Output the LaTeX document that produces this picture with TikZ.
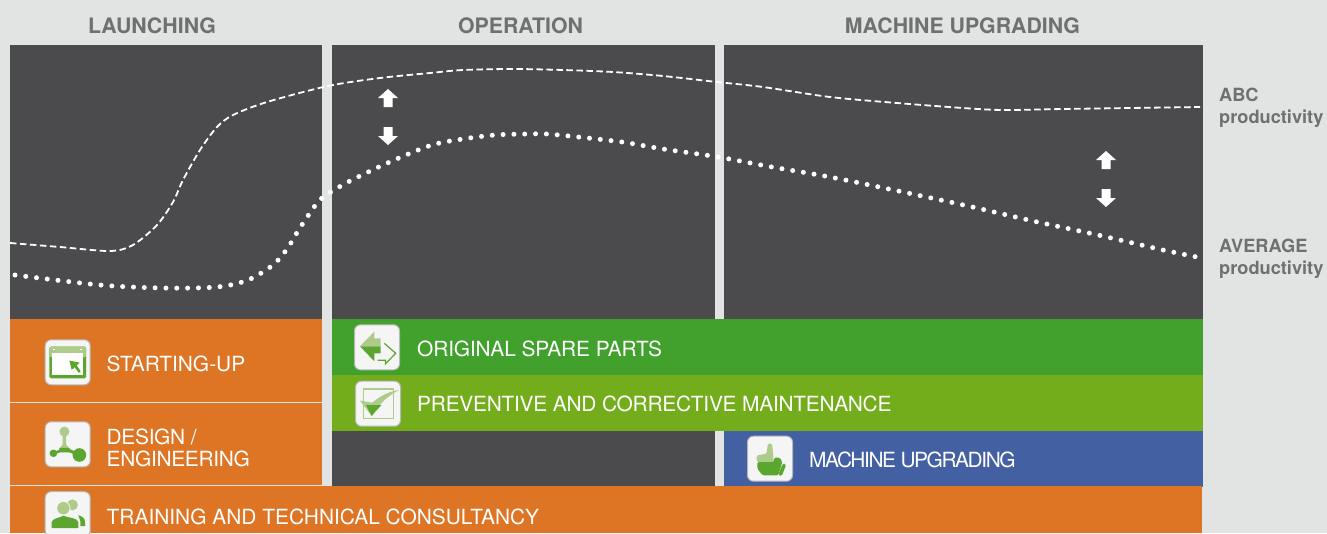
\documentclass[tikz,border=0pt]{standalone}
\usepackage{fontspec}
\setmainfont{TeX Gyre Heros}
\definecolor{bgc}{HTML}{E2E4E3}
\definecolor{dark}{HTML}{4B4A4C}
\definecolor{orng}{HTML}{DE7525}
\definecolor{grn}{HTML}{42A12D}
\definecolor{lime}{HTML}{73AD1C}
\definecolor{blu}{HTML}{4360A3}
\definecolor{hdr}{HTML}{6F7070}
\definecolor{ic}{HTML}{5BA62F}
\definecolor{icl}{HTML}{AECB8A}
\newcommand{\labfont}[1]{\fontsize{20.9}{22}\selectfont\addfontfeature{LetterSpace=#1}}
\tikzset{
 x=1pt,y=-1pt,
 head/.style={font=\fontsize{21.3}{22}\selectfont\bfseries,text=hdr,anchor=center,inner sep=0pt},
 side/.style={font=\fontsize{18.2}{22}\selectfont\bfseries,text=hdr,anchor=west,inner sep=0pt,align=left},
 lab/.style={font=\fontsize{20.9}{22}\selectfont,text=white,anchor=west,inner sep=0pt,align=left},
 iconbox/.style={fill=white!96!black,draw=black!28,line width=1pt,rounded corners=6pt,minimum width=45pt,minimum height=45pt,inner sep=0pt},
 updown/.style={fill=white,draw=none},
}
\begin{document}
\begin{tikzpicture}
\useasboundingbox (0,0) rectangle (1327,533);
\fill[bgc] (0,0) rectangle (1327,533);
% dark panels
\fill[dark] (10,45) rectangle (322,319);
\fill[dark] (332,45) rectangle (715,486);
\fill[dark] (724,45) rectangle (1203,319);
% coloured bands
\fill[orng] (10,319) rectangle (322,402);
\fill[orng] (10,403.3) rectangle (322,485);
\fill[grn] (332,319) rectangle (1203,375);
\fill[lime] (332,375) rectangle (1203,431);
\fill[blu] (724,431) rectangle (1203,487);
\fill[orng] (10,486.3) rectangle (1202,533);
% curves
\draw[white,line width=1.8pt,dash pattern=on 6.5pt off 3.5pt]
 plot[smooth,tension=0.5] coordinates {(10,243) (60,247) (110,251) (133,245) (157,225) (173,202) (183,180) (200,150) (217,127) (233,115) (267,102) (328,86) (380,78) (430,73) (463,70) (513,69) (563,70) (613,72) (663,76) (717,82) (763,87) (830,97) (897,103) (963,108) (1003,110) (1063,109) (1130,108) (1200,107)};
\draw[white,line width=5pt,line cap=round,dash pattern=on 0pt off 10.83pt]
 plot[smooth,tension=0.5] coordinates {(15,275) (100,285) (163,288) (217,287) (248,280) (273,265) (287,249) (298,231) (310,213) (322,198) (350,181) (392,161) (432,145) (463,139) (495,135) (527,134) (547,134) (578,137) (622,142) (663,149) (718,157) (772,167) (830,177) (903,192) (968,206) (1033,221) (1098,235) (1163,250) (1202,258)};
% up/down arrows
\foreach \ax/\uy/\dy in {388/89/145, 1106/151/207}{
 \fill[updown] (\ax-10,\uy+9) -- (\ax,\uy) -- (\ax+10,\uy+9) -- (\ax+4.5,\uy+9) -- (\ax+4.5,\uy+18) -- (\ax-4.5,\uy+18) -- (\ax-4.5,\uy+9) -- cycle;
 \fill[updown] (\ax-10,\dy-9) -- (\ax,\dy) -- (\ax+10,\dy-9) -- (\ax+4.5,\dy-9) -- (\ax+4.5,\dy-18) -- (\ax-4.5,\dy-18) -- (\ax-4.5,\dy-9) -- cycle;
}
% headers
\node[head] (h1) at (152,26) {LAUNCHING};
\node[head] (h2) at (520.5,26) {OPERATION};
\node[head] (h3) at (962.5,26) {MACHINE UPGRADING};
\node[side] (s1) at (1219,108) {ABC\\productivity};
\node[side] (s2) at (1219,258.5) {AVERAGE\\productivity};
% labels
\node[lab] (l1) at (106.5,363.5) {STARTING-UP};
\node[lab,font=\labfont{-1.5}] (l2) at (106.5,447.5) {DESIGN /\\ENGINEERING};
\node[lab] (l3) at (106.5,516.5) {TRAINING AND TECHNICAL CONSULTANCY};
\node[lab,font=\labfont{-0.7}] (l4) at (417,348.5) {ORIGINAL SPARE PARTS};
\node[lab,font=\labfont{-1.2}] (l5) at (417,403.5) {PREVENTIVE AND CORRECTIVE MAINTENANCE};
\node[lab,font=\labfont{-6.8}] (l6) at (809,459.5) {MACHINE UPGRADING};
% icons
\node[iconbox] (i1) at (67.7,362.3) {};
\node[iconbox] (i2) at (67.7,444.3) {};
\node[iconbox] (i3) at (67.7,514.2) {};
\node[iconbox] (i4) at (377,347.3) {};
\node[iconbox] (i5) at (378,403.7) {};
\node[iconbox] (i6) at (770,458.7) {};
% starting-up icon
\begin{scope}[shift={(i1.center)}]
 \fill[ic,rounded corners=1.5pt] (-18.3,-15.7) rectangle (18.3,16);
 \fill[icl,rounded corners=1.5pt] (-18.3,-15.7) rectangle (18.3,-5);
 \fill[white] (-16,-9) rectangle (15.5,12.7);
 \fill[white] (-15,-13.5) rectangle (-13,-12);
 \fill[white] (12,-13.5) rectangle (14,-12);
 \fill[ic] (1.7,-1.7) -- (12,0.3) -- (9,3) -- (13,9) -- (11,10.5) -- (7,5) -- (4,7.5) -- cycle;
\end{scope}
% design icon
\begin{scope}[shift={(i2.center)}]
 \fill[icl] (-3.3,-12.7) circle (5);
 \fill[icl] (-5.2,-12) -- (-1.4,-12) -- (-1.6,0) -- (1.5,4) -- (-8,4) -- (-5,0) -- cycle;
 \fill[ic] (-8.5,3.5) -- (1.5,3.5) -- (4,8) -- (-8,8) -- cycle;
 \draw[ic,line width=2.6pt] (-14.3,9) -- (-6,6);
 \draw[ic,line width=3pt] (1,6) -- (11.7,10.7);
 \fill[ic] (-14.3,9) circle (3.8);
 \fill[ic] (11.7,10.7) circle (6.8);
\end{scope}
% training icon
\begin{scope}[shift={(i3.center)}]
 \fill[icl] (4.7,-9.3) circle (5.5);
 \fill[white!96!black] (-4.3,-6) circle (7);
 \fill[icl] (-4.3,-6) circle (6.2);
 \fill[ic] (-16,14) -- (-16,8) .. controls (-15,4) and (-9,4) .. (-4.3,1.5) .. controls (1,4) and (9,3) .. (10.7,8) -- (10.7,14) -- cycle;
 \fill[ic] (10.7,1) .. controls (15,2.5) and (17.3,4) .. (17.3,8) -- (17.3,12) -- (12.7,12) -- (12.7,7) -- cycle;
\end{scope}
% spare parts icon
\begin{scope}[shift={(i4.center)}]
 \fill[icl] (-17,-1) -- (-2.7,-15.7) -- (-2.7,-9) -- (3.7,-9) -- (3.7,-1) -- cycle;
 \fill[ic] (-17,-1) -- (3.7,-1) -- (3.7,6) -- (-2.7,6) -- (-2.7,14) -- cycle;
 \draw[ic,line width=1.2pt] (7.3,-4) -- (18.7,6) -- (8.5,16.5) -- (8.5,13) -- (0.7,13);
\end{scope}
% check icon
\begin{scope}[shift={(i5.center)}]
 \draw[icl,line width=1.3pt] (-14.7,-14.7) rectangle (15.3,14.7);
 \fill[icl] (-18,-3) -- (-6,-1) .. controls (3,-8) and (10,-12) .. (21,-13.7) .. controls (10,-8) and (1,0) .. (-6.3,12.3) -- cycle;
 \fill[ic] (-12,1.3) -- (3.7,1.3) .. controls (0,5) and (-3,8) .. (-6.3,12.3) -- cycle;
\end{scope}
% thumb icon
\begin{scope}[shift={(i6.center)}]
 \fill[icl,rounded corners=1.5pt] (-13.3,-3.3) -- (-3.3,-5) -- (-2.3,-15) -- (2,-15.3) -- (3.5,-1) -- (3.5,5) -- (-13.3,3.3) -- cycle;
 \fill[ic,rounded corners=1.5pt] (-12.7,3.3) -- (4,3.3) -- (4,-1) -- (10,-1) -- (12.3,3.3) -- (8.3,16.7) -- (-7.3,16.7) -- (-12.7,10) -- cycle;
 \draw[ic,line width=3.6pt,line cap=round] (14,6.7) -- (10.5,15.5);
\end{scope}
\end{tikzpicture}
\end{document}
